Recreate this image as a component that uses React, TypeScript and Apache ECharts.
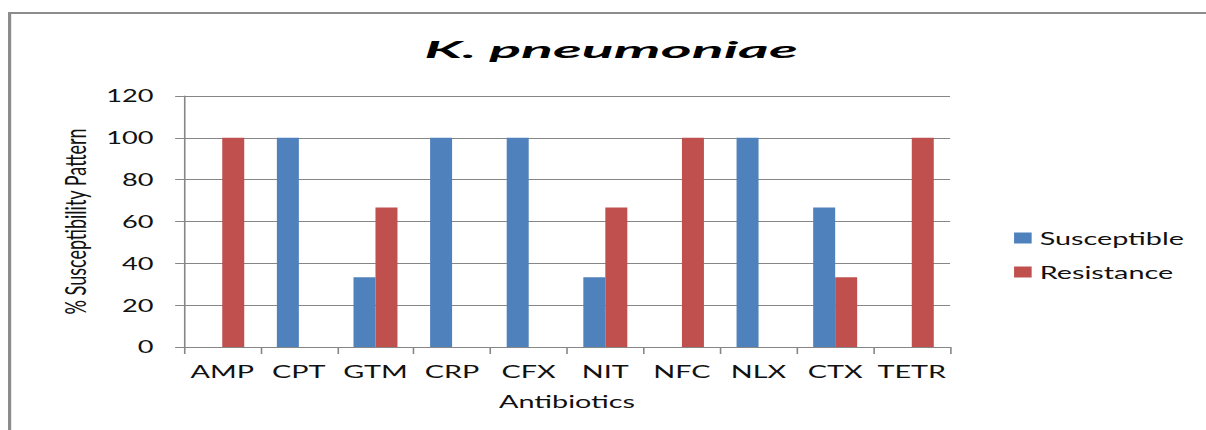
import React, { useEffect, useRef } from 'react';
import * as echarts from 'echarts';

const categories = ['AMP', 'CPT', 'GTM', 'CRP', 'CFX', 'NIT', 'NFC', 'NLX', 'CTX', 'TETR'];
const susceptible = [0, 100, 33.33, 100, 100, 33.33, 0, 100, 66.67, 0];
const resistance = [100, 0, 66.67, 0, 0, 66.67, 100, 0, 33.33, 100];
const seriesNames = ['Susceptible', 'Resistance'];
const titleText = 'K. pneumoniae';
const xAxisName = 'Antibiotics';
const yAxisName = '% Susceptibility Pattern';
const yMin = 0;
const yMax = 120;
const yInterval = 20;

const PAGE_W = 1206;
const PAGE_H = 430;
const CHART_W = 754;
const STRETCH = PAGE_W / CHART_W;

export default function App() {
  const ref = useRef<HTMLDivElement>(null);

  useEffect(() => {
    if (!ref.current) return;
    const chart = echarts.init(ref.current, null, {
      renderer: 'svg',
      width: CHART_W,
      height: PAGE_H,
    });
    const axisColor = '#868686';
    const textColor = '#111111';
    chart.setOption({
      animation: false,
      backgroundColor: '#ffffff',
      textStyle: { fontFamily: 'Lato, "Open Sans", sans-serif' },
      graphic: [
        {
          type: 'rect',
          silent: true,
          shape: { x: 6, y: 13, width: 900, height: 600 },
          style: { fill: 'none', stroke: '#8c8c8c', lineWidth: 2 },
        },
        {
          type: 'text',
          x: 382,
          y: 49,
          scaleX: 1.68,
          silent: true,
          style: {
            text: titleText,
            align: 'center',
            verticalAlign: 'middle',
            textAlign: 'center',
            textVerticalAlign: 'middle',
            fontFamily: 'Lato, "Open Sans", sans-serif',
            fontStyle: 'italic',
            fontWeight: 'bold',
            fontSize: 22,
            fill: '#000000',
          },
        },
      ],
      legend: {
        orient: 'vertical',
        left: 629,
        top: 224,
        itemWidth: 11,
        itemHeight: 11,
        itemGap: 16,
        icon: 'rect',
        data: seriesNames,
        textStyle: { fontSize: 18, color: textColor },
      },
      grid: { left: 115, right: CHART_W - 594, top: 96, bottom: PAGE_H - 347 },
      xAxis: {
        type: 'category',
        data: categories,
        name: xAxisName,
        nameLocation: 'middle',
        nameGap: 45,
        nameTextStyle: { fontSize: 18, color: textColor },
        axisLine: { show: true, lineStyle: { color: axisColor, width: 1 } },
        axisTick: { show: true, length: 7, interval: 0, lineStyle: { color: axisColor } },
        axisLabel: { margin: 15, fontSize: 18, interval: 0, color: textColor },
        splitLine: { show: false },
      },
      yAxis: {
        type: 'value',
        min: yMin,
        max: yMax,
        interval: yInterval,
        name: yAxisName,
        nameLocation: 'middle',
        nameGap: 59,
        nameRotate: 90,
        nameTextStyle: { fontSize: 18, color: textColor },
        axisLine: { show: true, lineStyle: { color: axisColor, width: 1 } },
        axisTick: { show: true, length: 5.5, lineStyle: { color: axisColor } },
        axisLabel: { margin: 19, fontSize: 17, color: textColor },
        splitLine: { show: true, lineStyle: { color: axisColor, width: 1 } },
      },
      series: [
        {
          name: seriesNames[0],
          type: 'bar',
          data: susceptible,
          barWidth: 13.75,
          barGap: '0%',
          itemStyle: { color: '#4F81BD' },
        },
        {
          name: seriesNames[1],
          type: 'bar',
          data: resistance,
          barWidth: 13.75,
          barGap: '0%',
          itemStyle: { color: '#C0504D' },
        },
      ],
    });
    return () => chart.dispose();
  }, []);

  return (
    <div
      style={{
        position: 'absolute',
        left: 0,
        top: 0,
        width: PAGE_W,
        height: PAGE_H,
        overflow: 'hidden',
        background: '#ffffff',
      }}
    >
      <div
        ref={ref}
        style={{
          width: CHART_W,
          height: PAGE_H,
          transform: `scaleX(${STRETCH})`,
          transformOrigin: '0 0',
        }}
      />
    </div>
  );
}
